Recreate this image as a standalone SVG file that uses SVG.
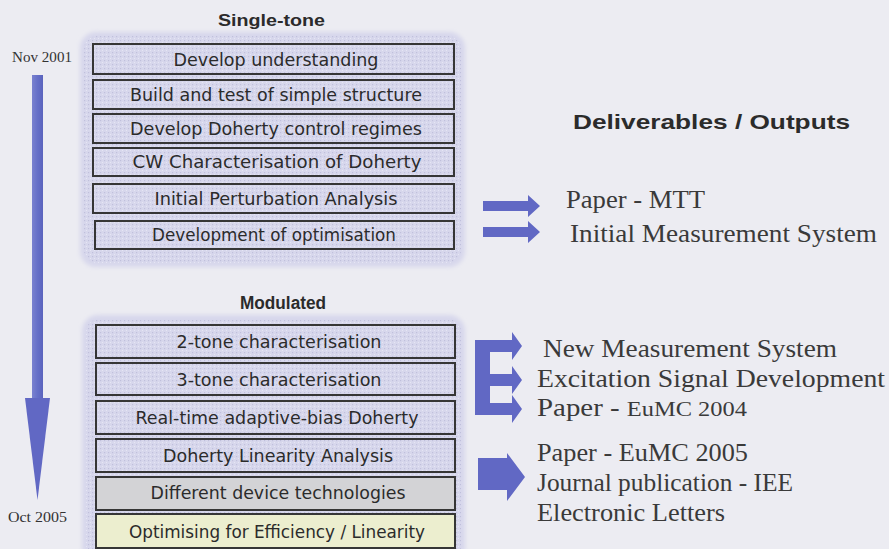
<svg xmlns="http://www.w3.org/2000/svg" width="889" height="549" viewBox="0 0 889 549">
  <defs>
    <!-- halftone dots used on the lavender panels -->
    <pattern id="dots" width="4" height="4" patternUnits="userSpaceOnUse">
      <rect width="4" height="4" fill="#d7d7ec"/>
      <rect x="0" y="0" width="1.2" height="1.2" fill="#b7b7d6" opacity="0.7"/>
      <rect x="2" y="2" width="1" height="1" fill="#eaeaf6" opacity="0.8"/>
    </pattern>
    <filter id="soft" x="-5%" y="-5%" width="110%" height="110%">
      <feGaussianBlur stdDeviation="2"/>
    </filter>
    <linearGradient id="shaft" x1="0" y1="0" x2="1" y2="0">
      <stop offset="0" stop-color="#7a82d0"/>
      <stop offset="0.5" stop-color="#6670c8"/>
      <stop offset="1" stop-color="#5a63bd"/>
    </linearGradient>
  </defs>
  <style>
    .box { fill: none; stroke: #363636; stroke-width: 2; }
    .lbl { font-family: "DejaVu Sans", "Liberation Sans", sans-serif; font-size: 18px; fill: #2b2b2b; text-anchor: middle; }
    .title { font-family: "Liberation Sans", Arial, sans-serif; font-weight: bold; fill: #2b2b2b; }
    .out { font-family: "Liberation Serif", "Times New Roman", serif; font-size: 26px; fill: #3a3a3a; }
    .date { font-family: "Liberation Serif", "Times New Roman", serif; font-size: 14.5px; fill: #333333; }
    .arrow { fill: #6168c4; }
  </style>

  <!-- page background -->
  <rect width="889" height="549" fill="#ececf2"/>

  <!-- group panels -->
  <g id="panel-single-tone">
    <rect x="80" y="32" width="385" height="235" rx="16" fill="#d7d7ec" filter="url(#soft)"/>
    <rect x="84" y="36" width="377" height="227" rx="13" fill="url(#dots)"/>
  </g>
  <g id="panel-modulated">
    <rect x="82" y="315" width="383" height="250" rx="16" fill="#d7d7ec" filter="url(#soft)"/>
    <rect x="86" y="319" width="375" height="240" rx="13" fill="url(#dots)"/>
  </g>

  <!-- headings -->
  <text class="title" x="218" y="26" font-size="17" textLength="107" lengthAdjust="spacingAndGlyphs">Single-tone</text>
  <text class="title" x="240" y="309" font-size="17.5" textLength="86" lengthAdjust="spacingAndGlyphs">Modulated</text>
  <text class="title" x="573" y="129" font-size="21" textLength="277" lengthAdjust="spacingAndGlyphs">Deliverables / Outputs</text>

  <!-- timeline -->
  <g id="timeline">
    <text class="date" x="12" y="62" textLength="60" lengthAdjust="spacingAndGlyphs">Nov 2001</text>
    <rect x="32" y="75" width="11" height="324" fill="url(#shaft)"/>
    <polygon points="25,398 50,398 37.5,500" fill="#6168c4"/>
    <text class="date" x="8" y="522" textLength="59" lengthAdjust="spacingAndGlyphs">Oct 2005</text>
  </g>

  <!-- single-tone tasks -->
  <g id="task-understanding">
    <rect class="box" x="93" y="44" width="361" height="30"/>
    <text class="lbl" x="276" y="66" textLength="205" lengthAdjust="spacingAndGlyphs">Develop understanding</text>
  </g>
  <g id="task-build">
    <rect class="box" x="93" y="80" width="361" height="29"/>
    <text class="lbl" x="276" y="101" textLength="292" lengthAdjust="spacingAndGlyphs">Build and test of simple structure</text>
  </g>
  <g id="task-control">
    <rect class="box" x="93" y="114" width="361" height="29"/>
    <text class="lbl" x="276" y="135" textLength="292" lengthAdjust="spacingAndGlyphs">Develop Doherty control regimes</text>
  </g>
  <g id="task-cw">
    <rect class="box" x="93" y="148" width="361" height="28"/>
    <text class="lbl" x="277" y="168" textLength="289" lengthAdjust="spacingAndGlyphs">CW Characterisation of Doherty</text>
  </g>
  <g id="task-perturbation">
    <rect class="box" x="93" y="184" width="361" height="29"/>
    <text class="lbl" x="276" y="205" textLength="243" lengthAdjust="spacingAndGlyphs">Initial Perturbation Analysis</text>
  </g>
  <g id="task-optimisation">
    <rect class="box" x="95" y="221" width="359" height="28"/>
    <text class="lbl" x="274" y="241" textLength="244" lengthAdjust="spacingAndGlyphs">Development of optimisation</text>
  </g>

  <!-- modulated tasks -->
  <g id="task-2tone">
    <rect class="box" x="96" y="325" width="359" height="33"/>
    <text class="lbl" x="279" y="348" textLength="205" lengthAdjust="spacingAndGlyphs">2-tone characterisation</text>
  </g>
  <g id="task-3tone">
    <rect class="box" x="96" y="363" width="359" height="32"/>
    <text class="lbl" x="279" y="386" textLength="205" lengthAdjust="spacingAndGlyphs">3-tone characterisation</text>
  </g>
  <g id="task-adaptive-bias">
    <rect class="box" x="96" y="401" width="359" height="33"/>
    <text class="lbl" x="277" y="424" textLength="283" lengthAdjust="spacingAndGlyphs">Real-time adaptive-bias Doherty</text>
  </g>
  <g id="task-linearity">
    <rect class="box" x="96" y="439" width="359" height="33"/>
    <text class="lbl" x="278" y="462" textLength="230" lengthAdjust="spacingAndGlyphs">Doherty Linearity Analysis</text>
  </g>
  <g id="task-devices">
    <rect x="96" y="477" width="359" height="33" fill="#d3d3d6"/>
    <rect class="box" x="96" y="477" width="359" height="33"/>
    <text class="lbl" x="278" y="499" textLength="255" lengthAdjust="spacingAndGlyphs">Different device technologies</text>
  </g>
  <g id="task-efficiency">
    <rect x="96" y="514" width="359" height="34" fill="#eceecf"/>
    <rect class="box" x="96" y="514" width="359" height="34"/>
    <text class="lbl" x="277" y="538" textLength="296" lengthAdjust="spacingAndGlyphs">Optimising for Efficiency / Linearity</text>
  </g>

  <!-- output arrows -->
  <g id="connectors">
    <polygon class="arrow" points="483,201 528,201 528,195 540,206 528,217 528,211 483,211"/>
    <polygon class="arrow" points="483,227 528,227 528,221 540,232 528,243 528,237 483,237"/>
    <polygon class="arrow" points="475,340 512,340 512,332 522,346 512,360 512,352 490,352 490,374 512,374 512,366 522,380 512,394 512,386 490,386 490,403 512,403 512,395 522,409 512,423 512,415 475,415"/>
    <polygon class="arrow" points="478,458 507,458 507,453 525,477 507,501 507,490 478,490"/>
  </g>

  <!-- deliverables -->
  <g id="outputs">
    <text class="out" x="566" y="208" textLength="139" lengthAdjust="spacingAndGlyphs">Paper - MTT</text>
    <text class="out" x="570" y="242" textLength="307" lengthAdjust="spacingAndGlyphs">Initial Measurement System</text>
    <text class="out" x="543" y="357" textLength="294" lengthAdjust="spacingAndGlyphs">New Measurement System</text>
    <text class="out" x="537" y="387" textLength="348" lengthAdjust="spacingAndGlyphs">Excitation Signal Development</text>
    <text class="out" x="537" y="416" textLength="210" lengthAdjust="spacingAndGlyphs">Paper - <tspan font-size="22">EuMC 2004</tspan></text>
    <text class="out" x="537" y="461" textLength="211" lengthAdjust="spacingAndGlyphs">Paper - EuMC 2005</text>
    <text class="out" x="537" y="491" textLength="256" lengthAdjust="spacingAndGlyphs">Journal publication - IEE</text>
    <text class="out" x="537" y="521" textLength="188" lengthAdjust="spacingAndGlyphs">Electronic Letters</text>
  </g>
</svg>
